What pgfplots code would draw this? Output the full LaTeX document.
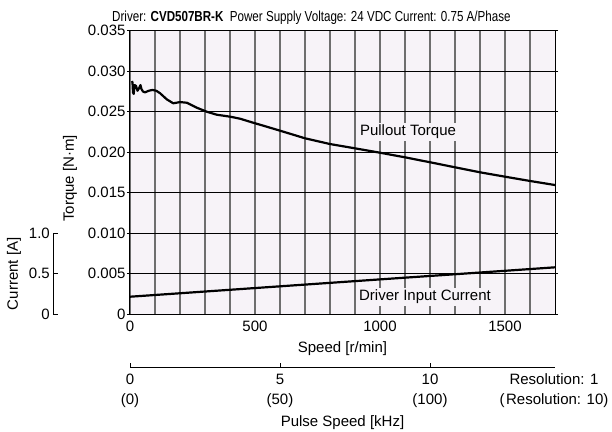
\documentclass[border=0pt]{standalone}
\usepackage{fontspec}
\setmainfont{Liberation Sans}
\newfontfamily\titlefont{Liberation Sans}[FakeStretch=0.8]
\usepackage{pgfplots}
\pgfplotsset{compat=1.18}
\definecolor{bgl}{HTML}{F7F3F8}
\definecolor{gridg}{HTML}{6E6E6E}
\begin{document}
\begin{tikzpicture}[font=\fontsize{15bp}{18bp}\selectfont]
\pgfplotsset{every axis/.append style={/pgf/number format/assume math mode=true}}
% main torque axis
\begin{axis}[name=main, at={(0,0)}, anchor=south west, scale only axis,
  width=425bp, height=283.5bp,
  xmin=0, xmax=1700, ymin=0, ymax=0.035,
  scaled y ticks=false, scaled x ticks=false,
  axis background/.style={fill=bgl},
  axis line style={black, line width=1bp},
  xtick={0,500,1000,1500}, xticklabels={0,500,1000,1500},
  minor xtick={100,200,300,400,600,700,800,900,1100,1200,1300,1400,1600},
  ytick={0,0.005,0.010,0.015,0.020,0.025,0.030,0.035},
  yticklabels={0,0.005,0.010,0.015,0.020,0.025,0.030,0.035},
  xmajorgrids, xminorgrids, ymajorgrids,
  x grid style={gridg, line width=1.8bp},
  minor x grid style={gridg, line width=1.8bp},
  y grid style={black, line width=0.9bp},
  xtick style={draw=none}, minor tick length=0pt,
  ytick style={black, line width=0.8bp},
  tick align=outside, major tick length=3bp,
  xticklabel style={yshift=0bp},
  yticklabel style={xshift=2bp},
  xlabel={Speed [r/min]},
  xlabel style={at={(axis description cs:0.5,0)}, anchor=center, yshift=-34bp},
  ylabel={Torque [N·m]},
  ylabel style={at={(axis description cs:-0.1412,0.48)}, anchor=center},
]
\addplot[black, line width=2.2bp, line join=round] coordinates {
(8,0.0288)(10,0.0286)(12,0.0274)(15,0.0272)(18,0.0283)(24,0.0282)(30,0.0276)
(36,0.0279)(42,0.0283)(46,0.0278)(52,0.0275)(60,0.0274)(75,0.0276)(90,0.0277)
(105,0.0276)(120,0.0273)(147,0.02654)(173,0.02605)(200,0.0262)(227,0.02612)
(267,0.02551)(307,0.02501)(347,0.02464)(400,0.0244)(440,0.02415)(493,0.02365)
(547,0.02316)(600,0.02267)(700,0.02173)(800,0.02102)(900,0.02049)(1000,0.01995)
(1100,0.01938)(1200,0.01877)(1300,0.01815)(1400,0.01753)(1500,0.01699)
(1600,0.01646)(1700,0.01596)
};
\node[fill=bgl, inner sep=2bp] at (axis cs:1112,0.02254) {Pullout Torque};
\node[fill=bgl, inner sep=2bp] at (axis cs:1180,0.00217) {Driver Input Current};
\end{axis}
% current curve, in amperes (0.035 N·m <-> 3.5 A)
\begin{axis}[at={(0,0)}, anchor=south west, scale only axis,
  width=425bp, height=283.5bp,
  xmin=0, xmax=1700, ymin=0, ymax=3.5, hide axis]
\addplot[black, line width=2.2bp] coordinates {(0,0.217)(500,0.324)(1000,0.431)(1500,0.537)(1700,0.58)};
\end{axis}
% current scale
\begin{axis}[at={(-76.7bp,0)}, anchor=south west, scale only axis,
  width=20bp, height=81bp,
  xmin=0, xmax=1, ymin=0, ymax=1,
  hide x axis, axis y line*=left,
  axis line style={-, black, line width=0.8bp},
  ytick={0,0.5,1}, yticklabels={0,0.5,1.0},
  ytick style={black, line width=0.8bp},
  tick align=inside, major tick length=5bp,
  ylabel={Current [A]},
  ylabel style={at={(axis description cs:-1.965,0.5)}, anchor=center},
]
\end{axis}
% pulse speed axis
\begin{axis}[at={(0,-53bp)}, anchor=south west, scale only axis,
  width=425bp, height=10bp,
  xmin=0, xmax=14.1667, ymin=0, ymax=1,
  hide y axis, axis x line*=bottom,
  axis line style={-, black, line width=0.8bp},
  xtick={0,5,10}, xticklabels={{0\\(0)},{5\\(50)},{10\\(100)}},
  xticklabel style={align=center, yshift=-3bp, font=\fontsize{15bp}{20bp}\selectfont},
  xtick style={black, line width=0.8bp},
  tick align=inside, major tick length=4bp,
  xlabel={Pulse Speed [kHz]},
  xlabel style={at={(axis description cs:0.5,0)}, anchor=center, yshift=-55bp},
]
\end{axis}
\node[anchor=north, align=center, font=\fontsize{15bp}{20bp}\selectfont, inner sep=0.333em] at (424bp,-56bp) {Resolution: 1\\(\kern1.5bp Resolution: 10)};
\node[anchor=base west, inner sep=0, font=\titlefont\fontsize{14.5bp}{16bp}\selectfont] at (-18bp,292.3bp) {Driver: \textbf{CVD507BR-K}\ \ Power Supply Voltage: 24 VDC Current: 0.75 A/Phase};
\pgfresetboundingbox
\useasboundingbox (-130bp,-117.7bp) rectangle (482bp,314.3bp);
\end{tikzpicture}
\end{document}
